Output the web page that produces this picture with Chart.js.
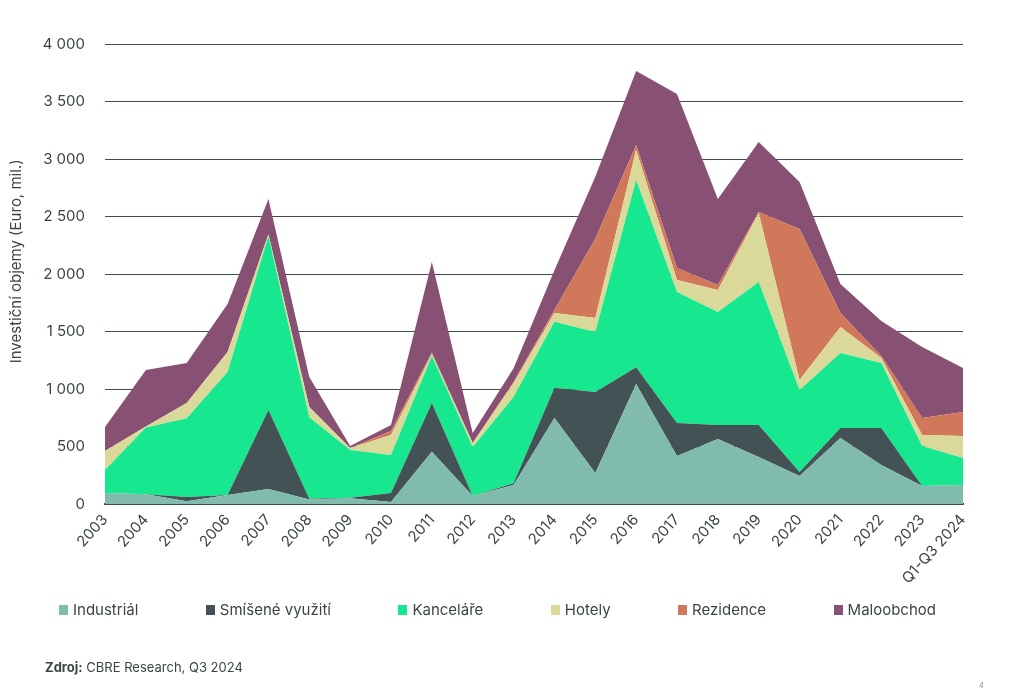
<!DOCTYPE html>
<html>
<head>
<meta charset="utf-8">
<script src="https://cdn.jsdelivr.net/npm/chart.js@4/dist/chart.umd.min.js"></script>
<style>
  html, body { margin: 0; padding: 0; background: #ffffff; }
  #wrap { position: relative; width: 1022px; height: 693px; }
  #c { position: absolute; left: 0; top: 0; }
  #legend { position: absolute; left: 59px; top: 600px; display: flex; gap: 67.5px;
            font-family: Inter, sans-serif; font-size: 15px; line-height: 19px; color: #3c4545; white-space: nowrap; }
  #legend .it { display: flex; align-items: center; }
  #legend .bx { width: 9px; height: 10px; margin-right: 5px; }
  #src { position: absolute; left: 45px; top: 659px; font-family: Inter, sans-serif; font-size: 13px; color: #3c4545; }
  #pg { position: absolute; left: 979px; top: 681px; font-family: Inter, sans-serif; font-size: 7px; color: #8a8a8a; font-style: italic; }
</style>
</head>
<body>
<div id="wrap">
  <canvas id="c" width="1022" height="693"></canvas>
  <div id="legend"></div>
  <div id="src"><b>Zdroj:</b> CBRE Research, Q3 2024</div>
  <div id="pg">4</div>
</div>
<script>
const categories = ["2003","2004","2005","2006","2007","2008","2009","2010","2011","2012","2013","2014","2015","2016","2017","2018","2019","2020","2021","2022","2023","Q1-Q3 2024"];
const industrial = [96, 85, 25, 78, 130, 40, 50, 17, 455, 70, 165, 748, 270, 1043, 417, 565, 409, 243, 574, 339, 156, 165];
const smisene    = [0, 0, 35, 0, 687, 5, 5, 78, 423, 0, 15, 262, 705, 147, 287, 122, 278, 35, 87, 322, 0, 0];
const kancelare  = [200, 580, 686, 1070, 1513, 710, 415, 331, 409, 426, 750, 575, 520, 1627, 1139, 983, 1243, 713, 652, 565, 348, 235];
const hotely     = [165, 10, 132, 174, 15, 88, 17, 174, 15, 34, 120, 75, 122, 261, 105, 191, 600, 87, 226, 44, 96, 191];
const rezidence  = [0, 0, 0, 0, 0, 0, 0, 35, 15, 0, 10, 27, 690, 44, 104, 43, 10, 1313, 122, 17, 148, 209];
const maloobchod = [209, 490, 348, 417, 307, 262, 18, 52, 787, 87, 120, 345, 539, 643, 1513, 748, 608, 409, 252, 304, 617, 383];
const yTicks = [0, 500, 1000, 1500, 2000, 2500, 3000, 3500, 4000];

const txt = '#3c4545';
const gridCol = '#3e4b4c';

function ds(label, data, color, fill) {
  return { label, data, backgroundColor: color, borderColor: color, borderWidth: 0,
           fill, pointRadius: 0, tension: 0 };
}

const chart = new Chart(document.getElementById('c'), {
  type: 'line',
  data: {
    labels: categories,
    datasets: [
      ds('Industriál', industrial, '#80bbad', 'origin'),
      ds('Smíšené využití', smisene, '#435254', '-1'),
      ds('Kanceláře', kancelare, '#17e88f', '-1'),
      ds('Hotely', hotely, '#dbd99a', '-1'),
      ds('Rezidence', rezidence, '#d2785a', '-1'),
      ds('Maloobchod', maloobchod, '#885073', '-1')
    ]
  },
  options: {
    responsive: false,
    animation: false,
    layout: { padding: { top: 44, right: 0, bottom: 0, left: 0 } },
    plugins: {
      tooltip: { enabled: false },
      legend: { display: false }
    },
    scales: {
      x: {
        stacked: true,
        offset: false,
        grid: { display: false, drawTicks: false },
        border: { display: true, color: gridCol, width: 2 },
        ticks: {
          autoSkip: false, maxRotation: 48, minRotation: 48, padding: 7,
          color: txt, font: { family: 'Inter', size: 15 }
        },
        afterFit: (s) => { s.height = 189; }
      },
      y: {
        stacked: true,
        min: 0, max: 4000,
        afterBuildTicks: (s) => { s.ticks = yTicks.map(v => ({ value: v })); },
        grid: { color: gridCol, lineWidth: 1, drawTicks: false },
        border: { display: false },
        ticks: {
          padding: 20, color: txt, font: { family: 'Inter', size: 15 },
          callback: (v) => String(v).replace(/\B(?=(\d{3})+(?!\d))/g, ' ')
        },
        title: {
          display: true,
          text: '\u00a0\u00a0\u00a0\u00a0\u00a0\u00a0Investiční objemy (Euro, mil.)',
          color: txt, font: { family: 'Inter', size: 15 },
          padding: { top: 7, bottom: 0 }
        },
        afterFit: (s) => { s.width = 105; }
      },
      y2: {
        position: 'right',
        display: true,
        grid: { display: false, drawTicks: false },
        border: { display: false },
        ticks: { display: false },
        afterFit: (s) => { s.width = 59; }
      }
    }
  }
});

// HTML legend built from the chart's datasets
const leg = document.getElementById('legend');
chart.data.datasets.forEach(d => {
  const it = document.createElement('div'); it.className = 'it';
  const bx = document.createElement('span'); bx.className = 'bx'; bx.style.background = d.backgroundColor;
  const tx = document.createElement('span'); tx.textContent = d.label;
  it.appendChild(bx); it.appendChild(tx); leg.appendChild(it);
});
</script>
</body>
</html>
